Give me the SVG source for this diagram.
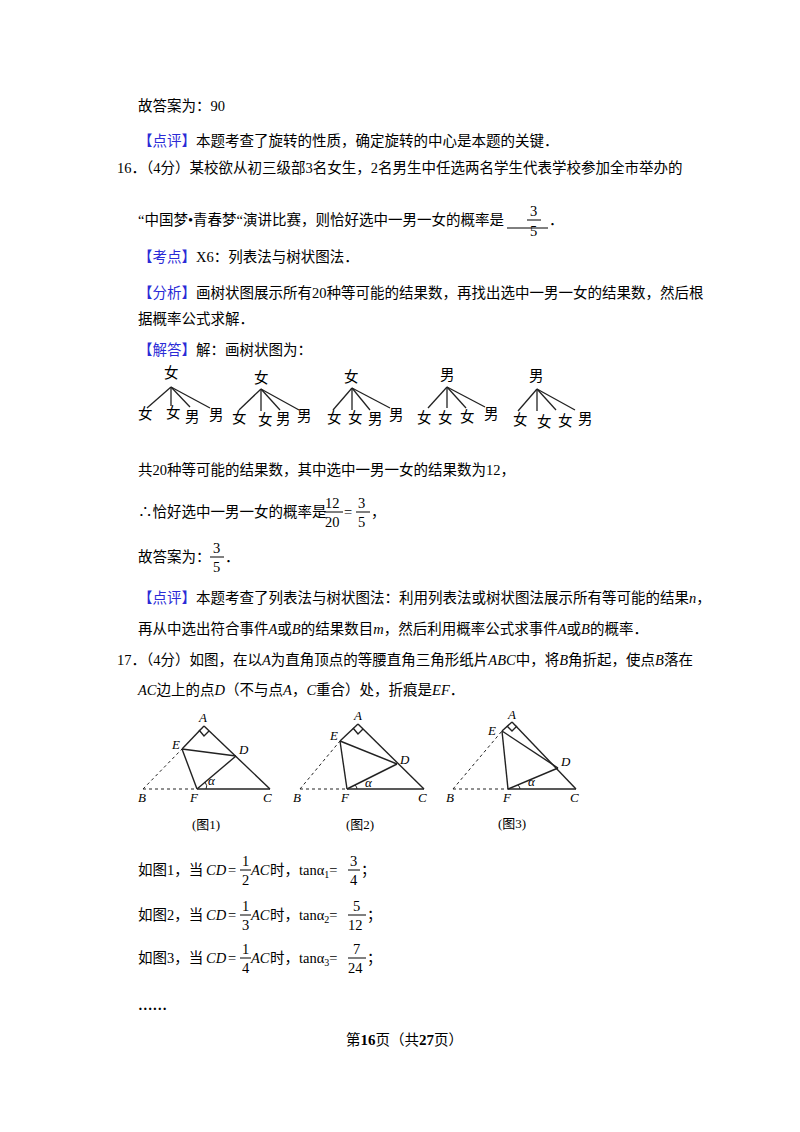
<svg xmlns="http://www.w3.org/2000/svg" width="800" height="1132" viewBox="0 0 800 1132">
<style>
text{font-family:"Liberation Serif","Noto Sans CJK SC",serif;font-size:14.5px;fill:#000}
.b{fill:#2b2bd6}
.i{font-style:italic}
.sm{font-size:13px}
.f{stroke:#000;stroke-width:1;fill:none}
.tr line{stroke:#222;stroke-width:1.3}
.g line,.g polyline{stroke:#222;stroke-width:1.4;fill:none}
.g .d{stroke-dasharray:3,3;stroke-width:1}
.lb{font-family:"Liberation Serif",serif;font-style:italic;font-size:13px}
</style>
<rect width="800" height="1132" fill="#fff"/>
<text x="138" y="111">故答案为：90</text>
<text x="138" y="146"><tspan class="b">【点评】</tspan>本题考查了旋转的性质，确定旋转的中心是本题的关键．</text>
<text x="117" y="173">16．（4分）某校欲从初三级部3名女生，2名男生中任选两名学生代表学校参加全市举办的</text>
<text x="138" y="225">“中国梦•青春梦“演讲比赛，则恰好选中一男一女的概率是</text>
<line x1="507" y1="228" x2="548" y2="228" class="f"/>
<text x="530" y="216">3</text><line x1="527" y1="220" x2="541" y2="220" class="f"/><text x="530" y="236">5</text>
<text x="549" y="225">．</text>
<text x="138" y="262"><tspan class="b">【考点】</tspan>X6：列表法与树状图法．</text>
<text x="138" y="298"><tspan class="b">【分析】</tspan>画树状图展示所有20种等可能的结果数，再找出选中一男一女的结果数，然后根</text>
<text x="138" y="324">据概率公式求解．</text>
<text x="138" y="355"><tspan class="b">【解答】</tspan>解：画树状图为：</text>
<g class="tr" id="tree">
<text x="164" y="378">女</text><line x1="171" y1="387" x2="147" y2="408"/><line x1="171" y1="387" x2="171" y2="406"/><line x1="171" y1="387" x2="190" y2="407"/><line x1="171" y1="387" x2="210" y2="408"/>
<text x="138" y="419">女</text><text x="166" y="418">女</text><text x="185" y="422">男</text><text x="209" y="420">男</text>
<text x="254" y="383">女</text><line x1="261" y1="389" x2="239" y2="410"/><line x1="261" y1="389" x2="261" y2="411"/><line x1="261" y1="389" x2="280" y2="410"/><line x1="261" y1="389" x2="299" y2="410"/>
<text x="232" y="423">女</text><text x="258" y="425">女</text><text x="276" y="424">男</text><text x="297" y="421">男</text>
<text x="344" y="382">女</text><line x1="352" y1="388" x2="333" y2="410"/><line x1="352" y1="388" x2="352" y2="410"/><line x1="352" y1="388" x2="370" y2="410"/><line x1="352" y1="388" x2="390" y2="408"/>
<text x="327" y="423">女</text><text x="348" y="423">女</text><text x="368" y="424">男</text><text x="389" y="420">男</text>
<text x="440" y="380">男</text><line x1="447" y1="387" x2="428" y2="408"/><line x1="447" y1="387" x2="447" y2="408"/><line x1="447" y1="387" x2="466" y2="408"/><line x1="447" y1="387" x2="485" y2="407"/>
<text x="417" y="423">女</text><text x="438" y="423">女</text><text x="460" y="422">女</text><text x="484" y="419">男</text>
<text x="529" y="381">男</text><line x1="537" y1="389" x2="518" y2="411"/><line x1="537" y1="389" x2="537" y2="411"/><line x1="537" y1="389" x2="556" y2="410"/><line x1="537" y1="389" x2="575" y2="410"/>
<text x="513" y="425">女</text><text x="537" y="427">女</text><text x="558" y="426">女</text><text x="578" y="424">男</text>
</g>
<text x="138" y="475">共20种等可能的结果数，其中选中一男一女的结果数为12，</text>
<text x="138" y="517">∴恰好选中一男一女的概率是</text>
<text x="325" y="508">12</text><line x1="324" y1="512" x2="343" y2="512" class="f"/><text x="325" y="527">20</text>
<text x="344" y="517">=</text>
<text x="358" y="508">3</text><line x1="356" y1="512" x2="370" y2="512" class="f"/><text x="358" y="527">5</text><text x="371" y="517">，</text>
<text x="138" y="562">故答案为：</text>
<text x="213" y="553">3</text><line x1="210" y1="557" x2="224" y2="557" class="f"/><text x="213" y="572">5</text><text x="225" y="562">．</text>
<text x="138" y="603"><tspan class="b">【点评】</tspan>本题考查了列表法与树状图法：利用列表法或树状图法展示所有等可能的结果<tspan class="i">n</tspan>，</text>
<text x="138" y="634">再从中选出符合事件<tspan class="i">A</tspan>或<tspan class="i">B</tspan>的结果数目<tspan class="i">m</tspan>，然后利用概率公式求事件<tspan class="i">A</tspan>或<tspan class="i">B</tspan>的概率．</text>
<text x="117" y="665">17．（4分）如图，在以<tspan class="i">A</tspan>为直角顶点的等腰直角三角形纸片<tspan class="i">ABC</tspan>中，将<tspan class="i">B</tspan>角折起，使点<tspan class="i">B</tspan>落在</text>
<text x="138" y="695"><tspan class="i">AC</tspan>边上的点<tspan class="i">D</tspan>（不与点<tspan class="i">A</tspan>，<tspan class="i">C</tspan>重合）处，折痕是<tspan class="i">EF</tspan>．</text>
<g class="g" id="fig1">
<line class="d" x1="143" y1="789" x2="182" y2="749"/><line class="d" x1="143" y1="789" x2="197" y2="789"/>
<line x1="182" y1="749" x2="204" y2="726"/><line x1="204" y1="726" x2="270" y2="789"/><line x1="197" y1="789" x2="270" y2="789"/>
<line x1="182" y1="749" x2="236" y2="756"/><line x1="182" y1="749" x2="197" y2="789"/><line x1="197" y1="789" x2="236" y2="756"/>
<polyline points="199,730 204,736 209,731"/>
<path d="M205,782 Q208,786 206,789" stroke="#222" fill="none"/>
<text class="lb" x="199" y="722">A</text><text class="lb" x="172" y="749">E</text><text class="lb" x="239" y="754">D</text><text class="lb" x="208" y="785">α</text>
<text class="lb" x="138" y="802">B</text><text class="lb" x="190" y="802">F</text><text class="lb" x="263" y="802">C</text>
<text x="192" y="829" class="sm">(图1)</text>
</g>
<g class="g" id="fig2">
<line class="d" x1="300" y1="789" x2="340" y2="741"/><line class="d" x1="300" y1="789" x2="347" y2="789"/>
<line x1="340" y1="741" x2="358" y2="724"/><line x1="358" y1="724" x2="424" y2="789"/><line x1="347" y1="789" x2="424" y2="789"/>
<line x1="340" y1="741" x2="397" y2="764"/><line x1="340" y1="741" x2="347" y2="789"/><line x1="347" y1="789" x2="397" y2="764"/>
<polyline points="353,728 358,734 363,729"/>
<path d="M355,785 Q357,787 357,789" stroke="#222" fill="none"/>
<text class="lb" x="354" y="720">A</text><text class="lb" x="330" y="740">E</text><text class="lb" x="400" y="764">D</text><text class="lb" x="365" y="787">α</text>
<text class="lb" x="293" y="802">B</text><text class="lb" x="341" y="802">F</text><text class="lb" x="418" y="802">C</text>
<text x="346" y="829" class="sm">(图2)</text>
</g>
<g class="g" id="fig3">
<line class="d" x1="453" y1="789" x2="502" y2="731"/><line class="d" x1="453" y1="789" x2="508" y2="789"/>
<line x1="502" y1="731" x2="512" y2="722"/><line x1="512" y1="722" x2="576" y2="789"/><line x1="508" y1="789" x2="576" y2="789"/>
<line x1="502" y1="731" x2="558" y2="768"/><line x1="502" y1="731" x2="508" y2="789"/><line x1="508" y1="789" x2="558" y2="768"/>
<polyline points="507,726 512,731 517,726"/>
<path d="M518,785 Q520,787 520,789" stroke="#222" fill="none"/>
<text class="lb" x="508" y="719">A</text><text class="lb" x="488" y="735">E</text><text class="lb" x="561" y="766">D</text><text class="lb" x="528" y="786">α</text>
<text class="lb" x="446" y="802">B</text><text class="lb" x="503" y="802">F</text><text class="lb" x="570" y="802">C</text>
<text x="498" y="828" class="sm">(图3)</text>
</g>
<g id="r1">
<text x="138" y="875">如图1，当</text><text x="206" y="875" class="i">CD</text><text x="228" y="875">=</text>
<text x="242" y="866">1</text><line x1="240" y1="870" x2="251" y2="870" class="f"/><text x="242" y="885">2</text>
<text x="251" y="875" class="i">AC</text><text x="270" y="875">时，tanα<tspan font-size="10" dy="3">1</tspan><tspan dy="-3">=</tspan></text>
<text x="350" y="866">3</text><line x1="348" y1="870" x2="360" y2="870" class="f"/><text x="350" y="885">4</text><text x="361" y="875">；</text>
</g>
<g id="r2">
<text x="138" y="920">如图2，当</text><text x="206" y="920" class="i">CD</text><text x="228" y="920">=</text>
<text x="242" y="911">1</text><line x1="240" y1="915" x2="251" y2="915" class="f"/><text x="242" y="930">3</text>
<text x="251" y="920" class="i">AC</text><text x="270" y="920">时，tanα<tspan font-size="10" dy="3">2</tspan><tspan dy="-3">=</tspan></text>
<text x="353" y="911">5</text><line x1="348" y1="915" x2="366" y2="915" class="f"/><text x="348" y="930">12</text><text x="367" y="920">；</text>
</g>
<g id="r3">
<text x="138" y="963">如图3，当</text><text x="206" y="963" class="i">CD</text><text x="228" y="963">=</text>
<text x="242" y="954">1</text><line x1="240" y1="958" x2="251" y2="958" class="f"/><text x="242" y="973">4</text>
<text x="251" y="963" class="i">AC</text><text x="270" y="963">时，tanα<tspan font-size="10" dy="3">3</tspan><tspan dy="-3">=</tspan></text>
<text x="353" y="954">7</text><line x1="348" y1="958" x2="366" y2="958" class="f"/><text x="348" y="973">24</text><text x="367" y="963">；</text>
</g>
<text x="138" y="1010" font-weight="bold">……</text>
<text x="346" y="1045" font-size="13">第<tspan font-weight="bold" font-size="15">16</tspan>页（共<tspan font-weight="bold" font-size="15">27</tspan>页）</text>
</svg>
